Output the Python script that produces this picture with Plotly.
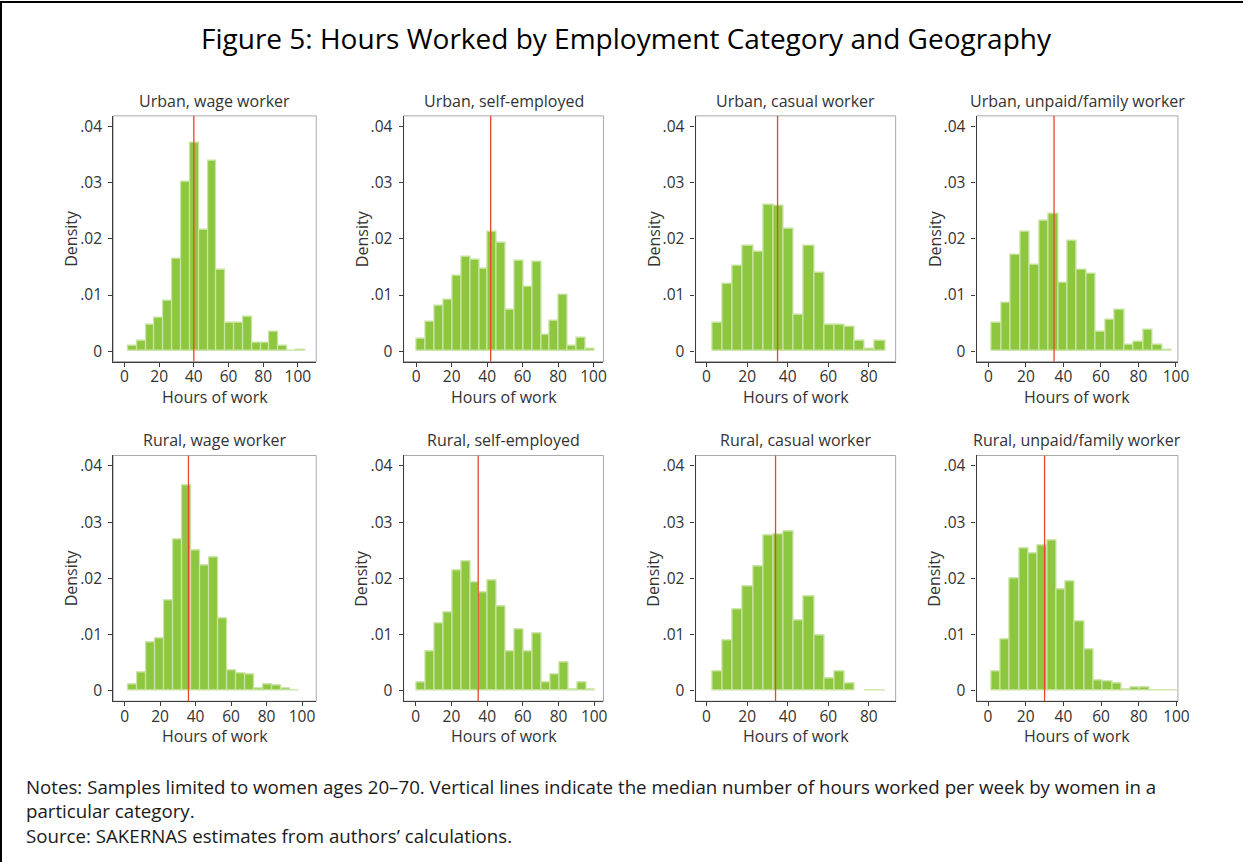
import plotly.graph_objects as go

# ---------------- data ----------------
panel_titles = [
    "Urban, wage worker", "Urban, self-employed", "Urban, casual worker", "Urban, unpaid/family worker",
    "Rural, wage worker", "Rural, self-employed", "Rural, casual worker", "Rural, unpaid/family worker",
]
bin_starts = [2.1, 0.5, 3.0, 1.8, 2.0, 0.5, 3.0, 1.8]
bin_widths = [5.1, 5.0, 5.0, 5.05, 5.06, 5.0, 5.0, 4.93]

urban_wage = [0.0010, 0.0018, 0.0047, 0.0060, 0.0090, 0.0165, 0.0301, 0.0370, 0.0216, 0.0338,
              0.0144, 0.0050, 0.0051, 0.0061, 0.0015, 0.0015, 0.0034, 0.0009, 0.0001, 0.0002]
urban_self = [0.0022, 0.0052, 0.0081, 0.0091, 0.0135, 0.0168, 0.0162, 0.0147, 0.0213, 0.0192,
              0.0073, 0.0160, 0.0114, 0.0159, 0.0029, 0.0055, 0.0100, 0.0009, 0.0024, 0.0004]
urban_casual = [0.0051, 0.0120, 0.0151, 0.0188, 0.0176, 0.0261, 0.0258, 0.0217, 0.0065, 0.0188,
                0.0139, 0.0047, 0.0047, 0.0044, 0.0018, 0.0004, 0.0018]
urban_unpaid = [0.0050, 0.0087, 0.0171, 0.0212, 0.0153, 0.0231, 0.0245, 0.0122, 0.0196, 0.0145,
                0.0138, 0.0034, 0.0056, 0.0074, 0.0012, 0.0017, 0.0038, 0.0011, 0.0002]
rural_wage = [0.0012, 0.0032, 0.0086, 0.0094, 0.0161, 0.0270, 0.0365, 0.0249, 0.0223, 0.0237,
              0.0128, 0.0037, 0.0031, 0.0030, 0.0004, 0.0011, 0.0009, 0.0004, 0.0001]
rural_self = [0.0015, 0.0070, 0.0120, 0.0140, 0.0214, 0.0230, 0.0193, 0.0175, 0.0196, 0.0150,
              0.0071, 0.0110, 0.0071, 0.0103, 0.0015, 0.0030, 0.0051, 0.0002, 0.0015, 0.0003]
rural_casual = [0.0034, 0.0089, 0.0145, 0.0186, 0.0222, 0.0276, 0.0278, 0.0284, 0.0126, 0.0168,
                0.0099, 0.0022, 0.0035, 0.0013, None, 0.0001, 0.0001]
rural_unpaid = [0.0035, 0.0091, 0.0200, 0.0253, 0.0244, 0.0259, 0.0268, 0.0181, 0.0195, 0.0124,
                0.0074, 0.0018, 0.0016, 0.0014, 0.0003, 0.0006, 0.0006, 0.0001, 0.0001, 0.0001]
densities = [urban_wage, urban_self, urban_casual, urban_unpaid,
             rural_wage, rural_self, rural_casual, rural_unpaid]
medians = [40, 42, 35, 35, 36, 35, 34, 30]

y_tick_vals = [0, 0.01, 0.02, 0.03, 0.04]
y_tick_text = ["0", ".01", ".02", ".03", ".04"]
x_ticks_full = [0, 20, 40, 60, 80, 100]
x_ticks_casual = [0, 20, 40, 60, 80]

title_text = "Figure 5: Hours Worked by Employment Category and Geography"
notes_lines = [
    "Notes: Samples limited to women ages 20\u201370. Vertical lines indicate the median number of hours worked per week by women in a",
    "particular category.",
    "Source: SAKERNAS estimates from authors\u2019 calculations.",
]

# ---------------- layout geometry (pixels) ----------------
W, H = 1255, 862
col_px = [(114.3, 319.3), (407.5, 609.3), (702.3, 904.3), (986.0, 1189.3)]
row_px = [(115, 361), (455, 701)]
x_ranges = [[-6.5, 110.6], [-7.1, 105.6], [-5.4, 93.2], [-6.3, 101.05],
            [-6.4, 108.0], [-6.8, 105.2], [-5.4, 93.2], [-6.1, 100.8]]
y_range = [-0.00182, 0.04184]

FONT = "Open Sans"
TXT = "#333333"
BAR_FILL = "#8DC63F"
BAR_EDGE = "#C9E4A2"
MED = "#E8472B"
AXIS = "#3c3c3c"
FRAME = "#a8a8a8"

fig = go.Figure()
shapes = []
annotations = []

for i in range(8):
    r, c = divmod(i, 4)
    n = "" if i == 0 else str(i + 1)
    xa, ya = "x" + n, "y" + n
    start, w = bin_starts[i], bin_widths[i]
    dens = densities[i]
    centers = [start + w * (k + 0.5) for k in range(len(dens))]
    fig.add_trace(go.Bar(
        x=centers, y=dens, width=[w] * len(dens),
        marker=dict(color=BAR_FILL, line=dict(color=BAR_EDGE, width=1.3)),
        xaxis=xa, yaxis=ya, showlegend=False, hoverinfo="x+y",
    ))
    x0p, x1p = col_px[c]
    y0p, y1p = row_px[r]
    xdom = [x0p / W, x1p / W]
    ydom = [1 - y1p / H, 1 - y0p / H]
    xt = x_ticks_casual if "casual" in panel_titles[i] else x_ticks_full
    fig.layout["xaxis" + n] = dict(
        domain=xdom, anchor=ya, range=x_ranges[i], tickvals=xt,
        showline=True, linecolor=AXIS, linewidth=1.2, ticks="outside", ticklen=4,
        tickcolor=AXIS, tickwidth=1.2, showgrid=False, zeroline=False, ticklabelstandoff=-3,
        tickfont=dict(family=FONT, size=15.5, color=TXT), fixedrange=True,
    )
    fig.layout["yaxis" + n] = dict(
        domain=ydom, anchor=xa, range=y_range, tickvals=y_tick_vals, ticktext=y_tick_text,
        showline=True, linecolor=AXIS, linewidth=1.2, ticks="outside", ticklen=4,
        tickcolor=AXIS, tickwidth=1.2, showgrid=False, zeroline=False, ticklabelstandoff=3,
        tickfont=dict(family=FONT, size=15.5, color=TXT), fixedrange=True,
    )
    # plot-region frame
    shapes.append(dict(type="rect", xref=xa + " domain", yref=ya + " domain",
                       x0=0, x1=1, y0=0, y1=1, line=dict(color=FRAME, width=1), layer="below"))
    # median line
    shapes.append(dict(type="line", xref=xa, yref=ya + " domain",
                       x0=medians[i], x1=medians[i], y0=0, y1=1,
                       line=dict(color=MED, width=1.3), layer="above"))
    # panel title
    annotations.append(dict(text=panel_titles[i], xref="paper", yref="paper",
                            x=(x0p + x1p) / 2 / W, y=1 - (y0p - 15) / H,
                            xanchor="center", yanchor="middle", showarrow=False,
                            font=dict(family=FONT, size=16, color=TXT)))
    # axis titles
    annotations.append(dict(text="Density", xref="paper", yref="paper",
                            x=(x0p - 42.6) / W, y=1 - (y0p + y1p) / 2 / H, textangle=-90,
                            xanchor="center", yanchor="middle", showarrow=False,
                            font=dict(family=FONT, size=16, color=TXT)))
    annotations.append(dict(text="Hours of work", xref="paper", yref="paper",
                            x=(x0p + x1p) / 2 / W, y=1 - (y1p + 35) / H,
                            xanchor="center", yanchor="middle", showarrow=False,
                            font=dict(family=FONT, size=16, color=TXT)))

annotations.append(dict(text=title_text, xref="paper", yref="paper", x=633 / W, y=1 - 37 / H,
                        xanchor="center", yanchor="middle", showarrow=False,
                        font=dict(family=FONT, size=28, color="#000000")))
for j, line in enumerate(notes_lines):
    annotations.append(dict(text=line, xref="paper", yref="paper", x=24 / W, y=1 - (786 + 24.5 * j) / H,
                            xanchor="left", yanchor="middle", showarrow=False,
                            font=dict(family=FONT, size=18.7, color="#1a1a1a")))

# outer frame (top and left edges)
shapes.append(dict(type="line", xref="paper", yref="paper", x0=0, x1=1, y0=1 - 1 / H, y1=1 - 1 / H,
                   line=dict(color="#000000", width=2)))
shapes.append(dict(type="line", xref="paper", yref="paper", x0=1 / W, x1=1 / W, y0=0, y1=1,
                   line=dict(color="#000000", width=2)))

fig.update_layout(
    width=W, height=H, margin=dict(l=0, r=0, t=0, b=0),
    paper_bgcolor="white", plot_bgcolor="white",
    shapes=shapes, annotations=annotations, bargap=0, showlegend=False,
    font=dict(family=FONT, color=TXT),
)
fig.write_html("out.html", config={"displayModeBar": False},
               post_script="document.body.style.margin='0';document.body.style.overflow='hidden';")
